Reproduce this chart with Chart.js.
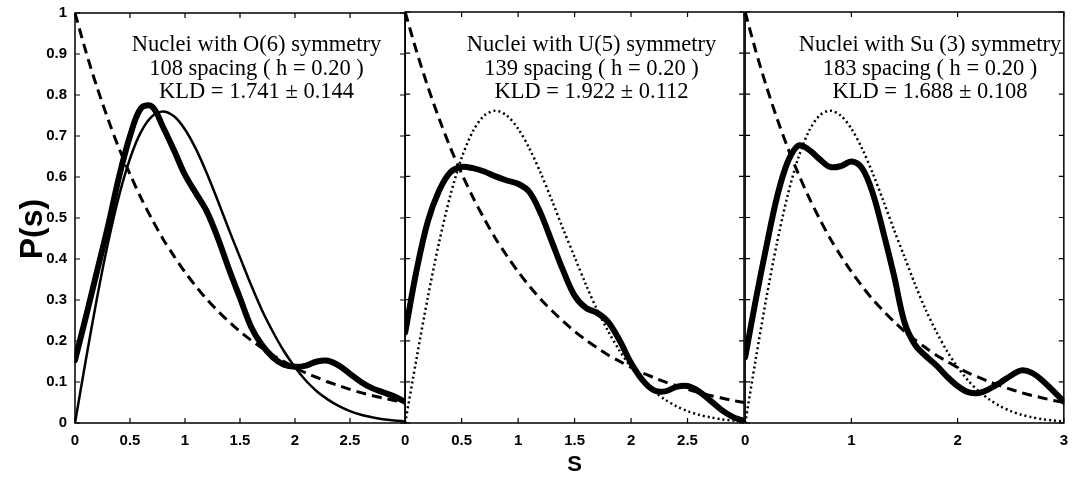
<!DOCTYPE html>
<html><head><meta charset="utf-8">
<script src="https://cdn.jsdelivr.net/npm/chart.js@4.4.1/dist/chart.umd.min.js"></script>
<style>
html,body{margin:0;padding:0;background:#fff;}
#wrap{position:relative;width:1072px;height:481px;overflow:hidden;background:#fff;}
canvas{position:absolute;top:0;}
</style></head><body>
<div id="wrap">
<canvas id="c1" width="414" height="485" style="left:0px;top:-4px"></canvas>
<canvas id="c2" width="361" height="481" style="left:392px"></canvas>
<canvas id="c3" width="345" height="481" style="left:732px"></canvas>
</div>
<script>
// ---- data ----
const sGrid   = [0,0.1,0.2,0.3,0.4,0.5,0.6,0.7,0.8,0.9,1.0,1.1,1.2,1.3,1.4,1.5,1.6,1.7,1.8,1.9,2.0,2.1,2.2,2.3,2.4,2.5,2.6,2.7,2.8,2.9,3.0];
const poisson = [1.000,0.905,0.819,0.741,0.670,0.607,0.549,0.497,0.449,0.407,0.368,0.333,0.301,0.273,0.247,0.223,0.202,0.183,0.165,0.150,0.135,0.122,0.111,0.100,0.091,0.082,0.074,0.067,0.061,0.055,0.050];
const wigner  = [0.000,0.156,0.305,0.439,0.554,0.645,0.710,0.748,0.760,0.748,0.716,0.668,0.608,0.541,0.471,0.404,0.337,0.275,0.222,0.175,0.136,0.103,0.077,0.057,0.041,0.029,0.020,0.014,0.009,0.006,0.004];
const o6Data  = [0.153,0.26,0.37,0.48,0.60,0.70,0.768,0.772,0.722,0.665,0.605,0.56,0.515,0.45,0.375,0.305,0.235,0.19,0.16,0.142,0.137,0.14,0.15,0.152,0.14,0.12,0.10,0.085,0.075,0.065,0.052];
const u5Data  = [0.22,0.37,0.49,0.565,0.61,0.623,0.62,0.612,0.60,0.59,0.582,0.562,0.51,0.44,0.37,0.31,0.28,0.268,0.245,0.20,0.146,0.105,0.08,0.077,0.088,0.09,0.077,0.055,0.032,0.015,0.005];
const su3Data = [0.16,0.30,0.43,0.55,0.635,0.675,0.665,0.642,0.623,0.625,0.636,0.62,0.56,0.465,0.36,0.245,0.19,0.163,0.14,0.113,0.09,0.075,0.073,0.083,0.098,0.115,0.128,0.122,0.103,0.078,0.052];
const yTicks   = [0,0.1,0.2,0.3,0.4,0.5,0.6,0.7,0.8,0.9,1];
const xTicksHalf = [0,0.5,1,1.5,2,2.5,3];
const xTicksUnit = [0,1,2,3];
const titles = [
  ["Nuclei with O(6) symmetry","108 spacing ( h = 0.20 )","KLD = 1.741 \u00b1 0.144"],
  ["Nuclei with U(5) symmetry","139 spacing ( h = 0.20 )","KLD = 1.922 \u00b1 0.112"],
  ["Nuclei with Su (3) symmetry","183 spacing ( h = 0.20 )","KLD = 1.688 \u00b1 0.108"]
];

const pts = arr => arr.map((v,i)=>({x:sGrid[i], y:v}));
const fmt = v => String(Number(v.toFixed(1)));

const framePlugin = {
  id:'frame',
  afterDatasetsDraw(chart, args, o){
    const {ctx, chartArea:a, scales:{x,y}} = chart;
    ctx.save();
    ctx.strokeStyle='#000'; ctx.lineWidth=1.5;
    ctx.strokeRect(a.left, a.top, a.right-a.left, a.bottom-a.top);
    ctx.lineWidth=1.2;
    const L=5;
    ctx.beginPath();
    o.xTicks.forEach(v=>{const px=x.getPixelForValue(v); ctx.moveTo(px,a.bottom); ctx.lineTo(px,a.bottom-L); ctx.moveTo(px,a.top); ctx.lineTo(px,a.top+L);});
    o.yTicks.forEach(v=>{const py=y.getPixelForValue(v); ctx.moveTo(a.left,py); ctx.lineTo(a.left+L,py); ctx.moveTo(a.right,py); ctx.lineTo(a.right-L,py);});
    ctx.stroke();
    ctx.fillStyle='#000';
    ctx.font='22.5px "Liberation Serif"'; ctx.textAlign='center'; ctx.textBaseline='alphabetic';
    const cx = x.getPixelForValue(o.textS);
    o.lines.forEach((t,i)=> ctx.fillText(t, cx, o.baselines[i] + o.dy));
    if (o.yTitle){
      ctx.save();
      ctx.translate(o.yTitle.x, o.yTitle.y + o.dy); ctx.rotate(-Math.PI/2);
      ctx.font='bold 32px "Liberation Sans"'; ctx.textBaseline='middle';
      ctx.fillText(o.yTitle.text,0,0);
      ctx.restore();
    }
    if (o.xTitle){
      ctx.font='bold 22px "Liberation Sans"'; ctx.textBaseline='middle';
      ctx.fillText(o.xTitle.text,(a.left+a.right)/2,o.xTitle.y + o.dy);
    }
    ctx.restore();
  }
};

function makePanel(id, thick, wStyle, xt, pad, showY, idx, textS, extra){
  const wDash = wStyle==='solid' ? [] : [2,3];
  return new Chart(document.getElementById(id), {
    type:'line',
    data:{datasets:[
      {data:pts(poisson), borderColor:'#000', borderWidth:3, borderDash:[10,6], pointRadius:0, tension:0.3, clip:0.5},
      {data:pts(wigner), borderColor:'#000', borderWidth:2.5, borderDash:wDash, pointRadius:0, tension:0.3, clip:0.5},
      {data:pts(thick), borderColor:'#000', borderWidth:6, pointRadius:0, tension:0.35, clip:0.5, borderJoinStyle:'round', borderCapStyle:'round'}
    ]},
    options:{
      responsive:false, animation:false, maintainAspectRatio:false,
      layout:{padding:pad, autoPadding:false},
      plugins:{legend:{display:false}, tooltip:{enabled:false},
        frame:Object.assign({xTicks:xt, yTicks:yTicks, textS:textS, lines:titles[idx], baselines:[51,75,98], dy:0}, extra)},
      scales:{
        x:{type:'linear', min:0, max:3,
           afterBuildTicks:s=>{s.ticks=xt.map(v=>({value:v}));},
           afterFit:s=>{s.height=58;},
           grid:{display:false, drawTicks:false}, border:{display:false},
           ticks:{padding:9, color:'#000', font:{family:'"Liberation Sans"', size:15, weight:'bold'}, maxRotation:0, autoSkip:false,
                  callback:v=> (idx<2 && v===3) ? '' : fmt(v)}},
        y:{type:'linear', min:0, max:1, display:showY,
           afterBuildTicks:s=>{s.ticks=yTicks.map(v=>({value:v}));},
           afterFit:s=>{s.width = showY ? 75 : 0;},
           grid:{display:false, drawTicks:false}, border:{display:false},
           ticks:{padding:8, color:'#000', font:{family:'"Liberation Sans"', size:15, weight:'bold'}, autoSkip:false, callback:v=>fmt(v)}}
      }
    },
    plugins:[framePlugin]
  });
}

makePanel('c1', o6Data, 'solid', xTicksHalf, {top:8,left:0,right:1,bottom:0}, true, 0, 1.65, {dy:4, yTitle:{text:'P(s)', x:33, y:229}});
makePanel('c2', u5Data, 'dot', xTicksHalf, {top:12,left:5,right:6,bottom:0}, false, 1, 1.65, {xTitle:{text:'S', y:465}});
makePanel('c3', su3Data, 'dot', xTicksUnit, {top:12,left:5,right:9,bottom:0}, false, 2, 1.74, {});
</script>
</body></html>
